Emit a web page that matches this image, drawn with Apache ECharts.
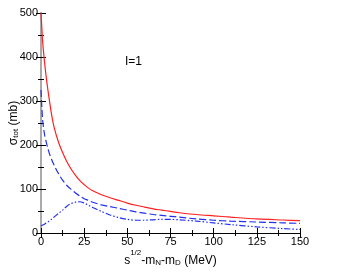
<!DOCTYPE html>
<html><head><meta charset="utf-8">
<script src="https://cdn.jsdelivr.net/npm/echarts@6/dist/echarts.min.js"></script>
<style>html,body{margin:0;padding:0;background:#fff}#c{width:354px;height:274px}</style>
</head><body><div id="c"></div>
<script>
const xs = [0,0.5,1,2,3,4,5,6,7.5,10,12.5,15,17.5,20,22.5,25,27.5,30,35,40,45,50,55,60,65,70,75,80,90,100,110,125,140,150];
const totalRed = [500,465,432,390,355,325,298,272,242,208,183,162,145,131,119,110,102,96,87,80,74,68,63,59,55,52,49,46,42,39,36,32,29.5,28];
const dashedBlue = [325,285,255,225,207,192,179,168,155,136,120,108,99,91,84,78,74,70,64,60,56,52,48,45,42,40,38,36,32,29,27,25,23,22];
const dashDotBlue = [16,17,18,20,23,25,28,31,36,44,52,61,67,70,71,68,63,58,49,41,35,31,29,29,30,31,31,30,27,23,19,14,10,8];
const xTicks = [0,25,50,75,100,125,150];
const yTicks = [0,100,200,300,400,500];

const pairs = ys => xs.map((x,i)=>[x, ys[i]]);
const font = 'Liberation Sans, Arial, sans-serif';
const chart = echarts.init(document.getElementById('c'));
const axisCommonX = {
  type:'value', min:0, max:150, interval:25,
  splitLine:{show:false},
  minorTick:{show:true, splitNumber:2, length:3, lineStyle:{color:'#000'}},
  axisTick:{inside:true, length:5, lineStyle:{color:'#000'}},
};
const axisCommonY = {
  type:'value', min:0, max:500, interval:100,
  splitLine:{show:false},
  minorTick:{show:true, splitNumber:2, length:3, lineStyle:{color:'#000'}},
  axisTick:{inside:true, length:5, lineStyle:{color:'#000'}},
};
chart.setOption({
  animation:false,
  grid:{left:41, right:54, top:13, bottom:41, containLabel:false, outerBoundsMode:'none'},
  xAxis:[
    Object.assign({}, axisCommonX, {
      position:'bottom',
      axisLine:{lineStyle:{color:'#000', width:1}},
      axisLabel:{color:'#000', fontSize:11, fontFamily:font, margin:3, formatter:v=>xTicks.includes(v)?String(v):''},
      name:'{a|s}{sup|1/2}{a|-m}{sub|N}{a|-m}{sub|D}{a| (MeV)}',
      nameLocation:'middle', nameGap:16, nameMoveOverlap:false,
      nameTextStyle:{rich:{
        a:{fontSize:12, fontFamily:font, color:'#000', verticalAlign:'bottom', lineHeight:18},
        sup:{fontSize:8, fontFamily:font, color:'#000', verticalAlign:'top', lineHeight:18},
        sub:{fontSize:8, fontFamily:font, color:'#000', verticalAlign:'bottom', lineHeight:12}
      }}
    }),
    Object.assign({}, axisCommonX, {
      position:'top',
      axisLine:{lineStyle:{color:'#000', width:1}},
      axisLabel:{show:false}
    })
  ],
  yAxis:[
    Object.assign({}, axisCommonY, {
      position:'left',
      axisLine:{lineStyle:{color:'#aaa', width:2}},
      axisLabel:{color:'#000', fontSize:11, fontFamily:font, margin:3, formatter:v=>yTicks.includes(v)?String(v):''},
      name:'{a|σ}{sub|tot}{a| (mb)}',
      nameLocation:'middle', nameGap:21, nameRotate:90, nameMoveOverlap:false,
      nameTextStyle:{rich:{
        a:{fontSize:12, fontFamily:font, color:'#000', verticalAlign:'bottom', lineHeight:16},
        sub:{fontSize:8, fontFamily:font, color:'#000', verticalAlign:'bottom', lineHeight:12}
      }}
    }),
    Object.assign({}, axisCommonY, {
      position:'right',
      axisLine:{lineStyle:{color:'#aaa', width:2}},
      axisLabel:{show:false}
    })
  ],
  graphic:[{type:'text', left:125, top:56, style:{text:'I=1', fontSize:12, fontFamily:font, fill:'#000'}}],
  series:[
    {type:'line', data:pairs(totalRed), showSymbol:false, smooth:0.3, lineStyle:{color:'#ff2020', width:1.2}},
    {type:'line', data:pairs(dashedBlue), showSymbol:false, smooth:0.3, lineStyle:{color:'#2030ee', width:1.2, type:[7,3]}},
    {type:'line', data:pairs(dashDotBlue), showSymbol:false, smooth:0.3, lineStyle:{color:'#2030ee', width:1.2, type:[6,2,1.5,2,1.5,2]}}
  ]
});
</script></body></html>
